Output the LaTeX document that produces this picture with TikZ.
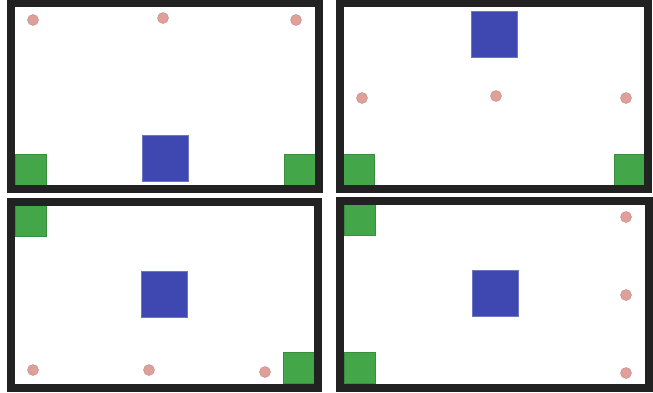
\documentclass[tikz,border=0pt]{standalone}
\usepackage{xcolor}
\definecolor{framegray}{RGB}{34,34,34}
\definecolor{cartblue}{RGB}{62,72,176}
\definecolor{padgreen}{RGB}{67,166,72}
\definecolor{ballpink}{RGB}{224,160,154}
\usepackage{tikz}
\usetikzlibrary{positioning}

\begin{document}
\begin{tikzpicture}[
  x=1pt, y=-1pt,
  panel/.style={draw=framegray, line width=8pt},
  cart/.style={fill=cartblue, draw=cartblue!75!white, line width=0.6pt, inner sep=0pt, minimum width=46pt, minimum height=46pt, anchor=north west},
  pad/.style={fill=padgreen, draw=padgreen!85!black, line width=0.4pt, inner sep=0pt, minimum size=31pt, anchor=north west},
  ball/.style={circle, fill=ballpink, draw=ballpink!85!black, line width=0.4pt, inner sep=0pt, minimum size=11pt}
]
\fill[white] (0,0) rectangle (653,392);
\useasboundingbox (0,0) rectangle (653,392);

% top left
\node[pad] (tlpadl) at (15,154) {};
\node[pad] (tlpadr) at (284,154) {};
\node[cart] (tlcart) at (142,135) {};
\node[ball] (tlballa) at (33,20) {};
\node[ball] (tlballb) at (163,18) {};
\node[ball] (tlballc) at (296,20) {};

% top right
\node[pad] (trpadl) at (343,154) {};
\node[pad] (trpadr) at (614,154) {};
\node[cart] (trcart) at (471,11) {};
\node[ball] (trballa) at (362,98) {};
\node[ball] (trballb) at (496,96) {};
\node[ball] (trballc) at (626,98) {};

% bottom left
\node[pad] (blpadt) at (15,205) {};
\node[pad] (blpadb) at (283,352) {};
\node[cart] (blcart) at (141,271) {};
\node[ball] (blballa) at (33,370) {};
\node[ball] (blballb) at (149,370) {};
\node[ball] (blballc) at (265,372) {};

% bottom right
\node[pad] (brpadt) at (344,204) {};
\node[pad] (brpadb) at (344,352) {};
\node[cart] (brcart) at (472,270) {};
\node[ball] (brballa) at (626,217) {};
\node[ball] (brballb) at (626,295) {};
\node[ball] (brballc) at (626,373) {};

% frames
\draw[panel] (11,3) rectangle (319,189);
\draw[panel] (339.5,3) rectangle (648,189);
\draw[panel] (11,201.5) rectangle (317.5,388);
\draw[panel] (340,200.5) rectangle (649,388);
\end{tikzpicture}
\end{document}
